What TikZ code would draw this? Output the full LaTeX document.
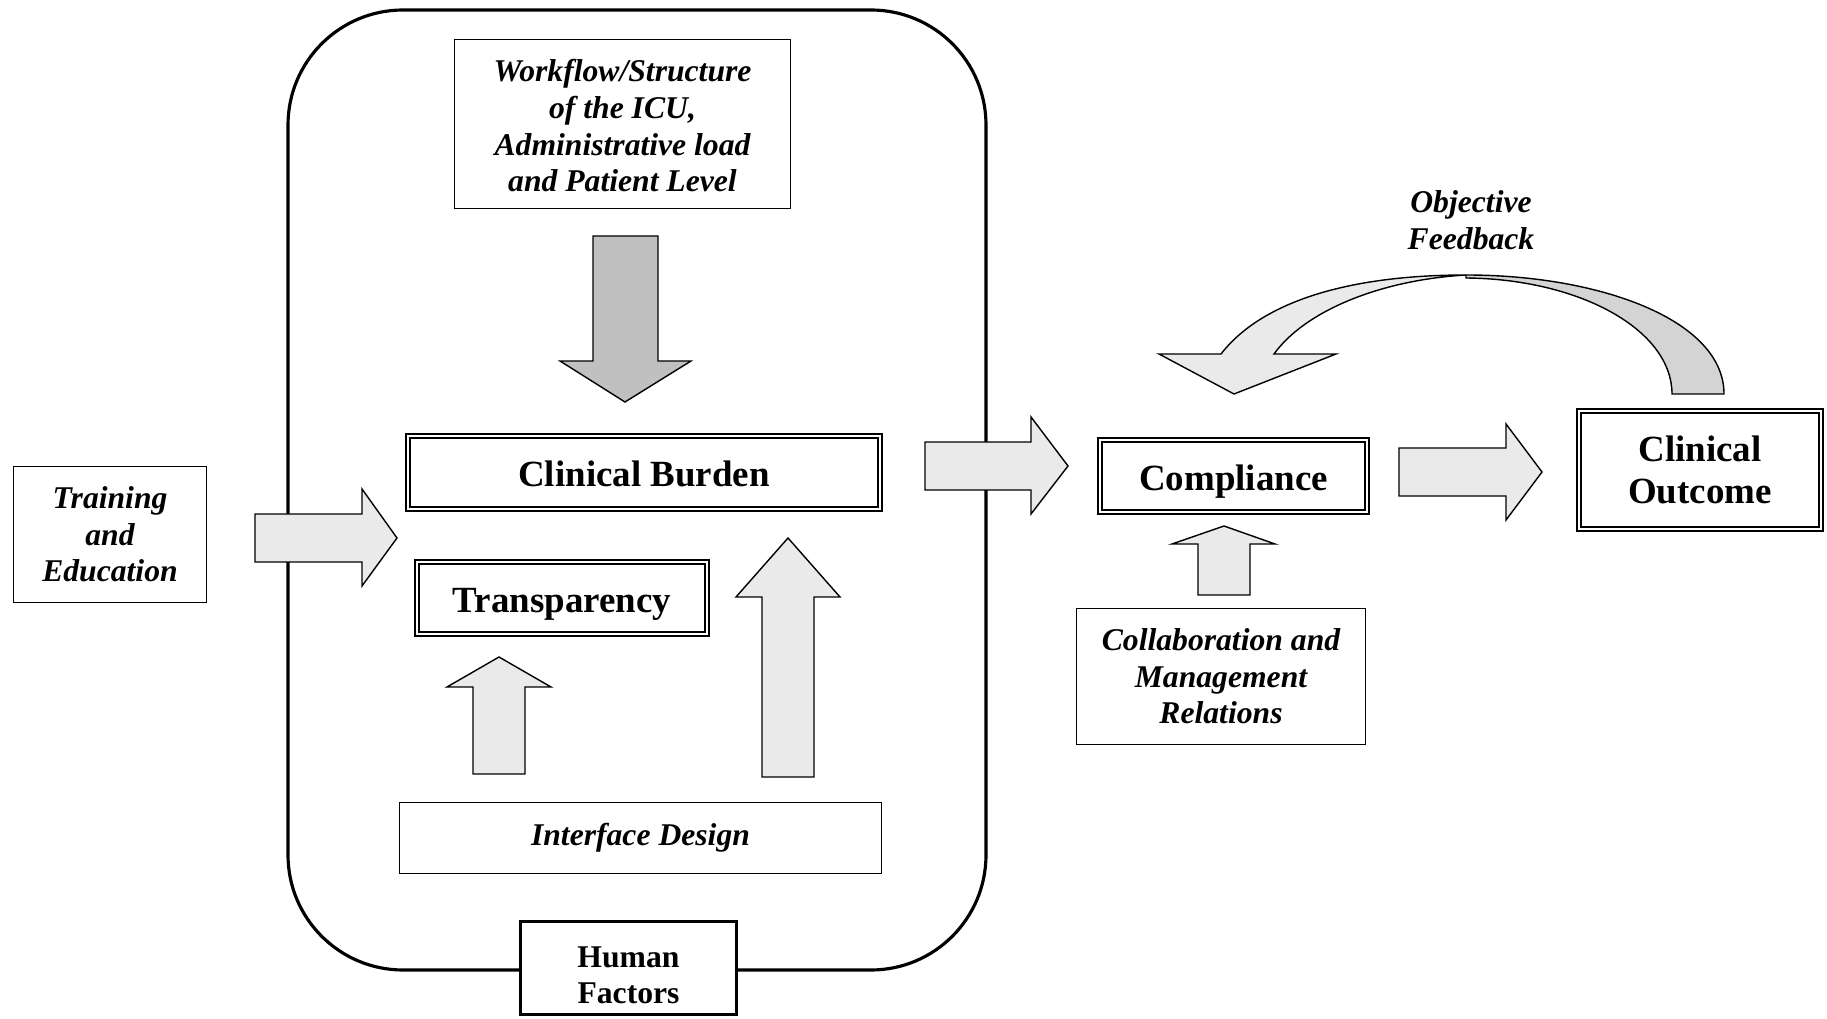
\documentclass[tikz,border=0pt]{standalone}
\usepackage{fontspec}
\setmainfont{Liberation Serif}
\usetikzlibrary{positioning}
\definecolor{lightfill}{HTML}{EAEAEA}
\definecolor{darkfill}{HTML}{C0C0C0}
\definecolor{backfill}{HTML}{D4D4D4}
\tikzset{
    box/.style={draw, line width=0.4pt, align=center, inner sep=0pt,
        font=\fontsize{9}{10.4}\selectfont\bfseries\itshape},
    dbox/.style={draw, double, line width=0.45pt, double distance=0.7pt, align=center, inner sep=0pt,
        font=\fontsize{10.5}{12}\selectfont\bfseries},
    oneline/.style={text height=10pt, text depth=2pt},
    hbox/.style={draw, line width=0.9pt, fill=white, align=center, inner sep=0pt,
        font=\fontsize{9}{10.4}\selectfont\bfseries},
    frame/.style={draw, line width=0.9pt, rounded corners=1.15cm},
    barrow/.style={draw, line width=0.4pt, fill=lightfill},
}
\begin{document}
\begin{tikzpicture}[x=0.01cm, y=-0.01cm]
            \useasboundingbox (0,0) rectangle (1827,1019);
            \draw[frame] (288,10) rectangle (986,970);
            
            \node[box, minimum width=3.36cm, minimum height=1.69cm] (WF) at (622.5,124) {\rule{0pt}{7.4pt}Workflow/Structure\\of the ICU,\\Administrative load\\and Patient Level};
            \node[box, minimum width=1.93cm, minimum height=1.36cm] (TE) at (110,534.5) {Training\\and\\Education};
            \node[dbox, oneline, minimum width=4.72cm, minimum height=0.73cm] (CB) at (644,472.5) {Clinical Burden};
            \node[dbox, oneline, minimum width=2.90cm, minimum height=0.72cm] (TR) at (562,598) {Transparency};
            \node[box, minimum width=4.82cm, minimum height=0.71cm] (ID) at (640.5,838) {Interface Design};
            \node[hbox, minimum width=2.16cm, minimum height=0.93cm] (HF) at (628.5,968) {\rule{0pt}{10pt}Human\\Factors};
            \node[dbox, oneline, minimum width=2.67cm, minimum height=0.72cm] (CM) at (1233.5,476) {Compliance};
            \node[box, minimum width=2.89cm, minimum height=1.36cm] (CR) at (1221,676.5) {Collaboration and\\Management\\Relations};
            \node[dbox, minimum width=2.42cm, minimum height=1.18cm] (OC) at (1700,470) {Clinical\\Outcome};
            \node[align=center, inner sep=0pt, font=\fontsize{9}{10.6}\selectfont\bfseries\itshape] (OF) at (1471,220) {Objective\\Feedback};
            
            \draw[barrow, fill=darkfill] (593,236) -- (658,236) -- (658,361) -- (691,361) -- (625,402) -- (560,361) -- (593,361) -- cycle;
            \draw[barrow] (255,514) -- (362,514) -- (362,489) -- (397,538) -- (362,586) -- (362,562) -- (255,562) -- cycle;
            \draw[barrow] (473,774) -- (473,687) -- (447,687) -- (499,657) -- (551,687) -- (525,687) -- (525,774) -- cycle;
            \draw[barrow] (762,777) -- (762,597) -- (736,597) -- (788,538) -- (840,597) -- (814,597) -- (814,777) -- cycle;
            \draw[barrow] (925,442) -- (1031,442) -- (1031,417) -- (1068,466) -- (1031,514) -- (1031,490) -- (925,490) -- cycle;
            \draw[barrow] (1399,448) -- (1506,448) -- (1506,424) -- (1542,472) -- (1506,520) -- (1506,496) -- (1399,496) -- cycle;
            \draw[barrow] (1198,595) -- (1198,544) -- (1172,544) -- (1224,526) -- (1275,544) -- (1250,544) -- (1250,595) -- cycle;
            
            \draw[barrow, fill=backfill] (1466,275) .. controls (1600,275) and (1724,320) .. (1724,394) -- (1672,394) .. controls (1672,330) and (1580,279) .. (1466,278) -- cycle;
            \draw[barrow] (1159,354) -- (1221,354) .. controls (1262,301) and (1350,275) .. (1466,275) .. controls (1380,280) and (1305,311) .. (1274,354) -- (1336,354) -- (1234,394) -- cycle;
            
        \end{tikzpicture}
\end{document}
